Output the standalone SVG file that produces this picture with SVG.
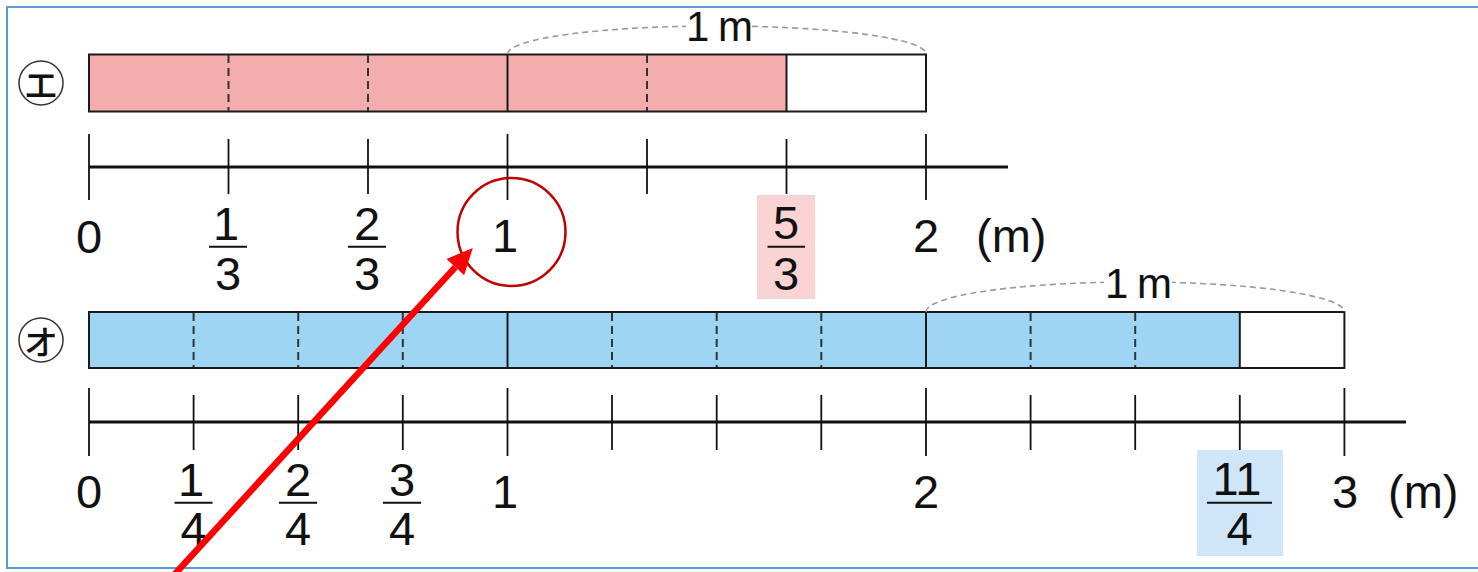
<svg xmlns="http://www.w3.org/2000/svg" width="1478" height="572" viewBox="0 0 1478 572">
<defs>
<style>
.t{font-family:"Liberation Sans",Arial,sans-serif;font-size:47px;fill:#111;text-anchor:middle}
.ts{font-family:"Liberation Sans",Arial,sans-serif;font-size:42px;fill:#111}
.u{font-family:"Liberation Sans",Arial,sans-serif;font-size:47px;fill:#111}
.jp{font-family:"Noto Sans CJK JP","Noto Sans CJK SC",sans-serif;font-size:34px;font-weight:500;fill:#111;text-anchor:middle;dominant-baseline:central}
.lbl{fill:none;stroke:#333;stroke-width:1.5}
.bar{fill:none;stroke:#1a1a1a;stroke-width:2}
.solid{stroke:#1a1a1a;stroke-width:2}
.dash{stroke:#333;stroke-width:2;stroke-dasharray:8 5}
.axis{stroke:#111;stroke-width:3}
.tick{stroke:#111;stroke-width:1.8}
.fb{stroke:#111;stroke-width:2}
.arc{fill:none;stroke:#9a9a9a;stroke-width:1.6;stroke-dasharray:6 4}
</style>
<marker id="head" markerUnits="userSpaceOnUse" markerWidth="26" markerHeight="24" refX="0" refY="12" orient="auto" viewBox="0 0 26 24">
<path d="M0,0 L26,12 L0,24 z" fill="#ff0000"/>
</marker>
</defs>
<rect x="0" y="0" width="1478" height="572" fill="#ffffff"/>
<rect x="7" y="7" width="1480" height="561" fill="none" stroke="#5b9bd5" stroke-width="2"/>

<g id="row-e">
<circle class="lbl" cx="41" cy="83" r="22"/>
<text class="jp" x="41" y="83">エ</text>
<rect x="89" y="54.5" width="837" height="57" fill="#ffffff"/>
<rect x="89" y="54.5" width="697.5" height="57" fill="#f4adad"/>
<rect class="bar" x="89" y="54.5" width="837" height="57"/>
<line class="dash" x1="228.5" y1="55" x2="228.5" y2="111"/>
<line class="dash" x1="368" y1="55" x2="368" y2="111"/>
<line class="dash" x1="647" y1="55" x2="647" y2="111"/>
<line class="solid" x1="507.5" y1="54.5" x2="507.5" y2="111.5"/>
<line class="solid" x1="786.5" y1="54.5" x2="786.5" y2="111.5"/>
<path class="arc" d="M507.5,54 A209.25,28 0 0 1 926,54"/>
<rect x="686" y="11" width="66" height="36" fill="#ffffff"/>
<text class="ts" x="686" y="41" word-spacing="-3">1 m</text>
</g>

<g id="axis-e">
<line class="axis" x1="89" y1="167" x2="1008" y2="167"/>
<line class="tick" x1="89" y1="134" x2="89" y2="200"/>
<line class="tick" x1="228.5" y1="139" x2="228.5" y2="194"/>
<line class="tick" x1="368" y1="139" x2="368" y2="194"/>
<line class="tick" x1="507.5" y1="134" x2="507.5" y2="200"/>
<line class="tick" x1="647" y1="139" x2="647" y2="194"/>
<line class="tick" x1="786.5" y1="139" x2="786.5" y2="194"/>
<line class="tick" x1="926" y1="134" x2="926" y2="200"/>
<text class="t" x="89" y="253">0</text>
<text class="t" x="226" y="240">1</text>
<line class="fb" x1="209" y1="246.7" x2="247" y2="246.7"/>
<text class="t" x="228" y="290">3</text>
<text class="t" x="367" y="240">2</text>
<line class="fb" x1="348" y1="246.7" x2="386" y2="246.7"/>
<text class="t" x="367" y="290">3</text>
<text class="t" x="505" y="252">1</text>
<rect x="757" y="195" width="58" height="104" fill="#fad4d4"/>
<text class="t" x="786" y="239">5</text>
<line class="fb" x1="767.5" y1="246.7" x2="805" y2="246.7"/>
<text class="t" x="786" y="290">3</text>
<text class="t" x="926" y="252">2</text>
<text class="u" x="976" y="252">(m)</text>
</g>

<g id="row-o">
<circle class="lbl" cx="41" cy="340" r="22"/>
<text class="jp" x="41" y="340">オ</text>
<rect x="89" y="312" width="1255.4" height="56" fill="#ffffff"/>
<rect x="89" y="312" width="1150.8" height="56" fill="#9fd5f4"/>
<rect class="bar" x="89" y="312" width="1255.4" height="56"/>
<line class="dash" x1="193.6" y1="313" x2="193.6" y2="367"/>
<line class="dash" x1="298.2" y1="313" x2="298.2" y2="367"/>
<line class="dash" x1="402.8" y1="313" x2="402.8" y2="367"/>
<line class="dash" x1="612" y1="313" x2="612" y2="367"/>
<line class="dash" x1="716.7" y1="313" x2="716.7" y2="367"/>
<line class="dash" x1="821.3" y1="313" x2="821.3" y2="367"/>
<line class="dash" x1="1030.6" y1="313" x2="1030.6" y2="367"/>
<line class="dash" x1="1135.2" y1="313" x2="1135.2" y2="367"/>
<line class="solid" x1="507.5" y1="312" x2="507.5" y2="368"/>
<line class="solid" x1="926" y1="312" x2="926" y2="368"/>
<line class="solid" x1="1239.8" y1="312" x2="1239.8" y2="368"/>
<path class="arc" d="M926,312 A209.2,30 0 0 1 1344.4,312"/>
<rect x="1104" y="268" width="68" height="36" fill="#ffffff"/>
<text class="ts" x="1105" y="298" word-spacing="-3">1 m</text>
</g>

<g id="axis-o">
<line class="axis" x1="89" y1="422" x2="1406" y2="422"/>
<line class="tick" x1="89" y1="388" x2="89" y2="456"/>
<line class="tick" x1="193.6" y1="395" x2="193.6" y2="450"/>
<line class="tick" x1="298.2" y1="395" x2="298.2" y2="450"/>
<line class="tick" x1="402.8" y1="395" x2="402.8" y2="450"/>
<line class="tick" x1="507.5" y1="388" x2="507.5" y2="456"/>
<line class="tick" x1="612" y1="395" x2="612" y2="450"/>
<line class="tick" x1="716.7" y1="395" x2="716.7" y2="450"/>
<line class="tick" x1="821.3" y1="395" x2="821.3" y2="450"/>
<line class="tick" x1="926" y1="388" x2="926" y2="456"/>
<line class="tick" x1="1030.6" y1="395" x2="1030.6" y2="450"/>
<line class="tick" x1="1135.2" y1="395" x2="1135.2" y2="450"/>
<line class="tick" x1="1239.8" y1="395" x2="1239.8" y2="450"/>
<line class="tick" x1="1344.4" y1="388" x2="1344.4" y2="456"/>
<text class="t" x="89" y="508">0</text>
<text class="t" x="191" y="496">1</text>
<line class="fb" x1="174.5" y1="502.7" x2="212.5" y2="502.7"/>
<text class="t" x="193.5" y="545">4</text>
<text class="t" x="298" y="496">2</text>
<line class="fb" x1="279" y1="502.7" x2="317" y2="502.7"/>
<text class="t" x="298" y="545">4</text>
<text class="t" x="402" y="496">3</text>
<line class="fb" x1="383" y1="502.7" x2="421" y2="502.7"/>
<text class="t" x="402" y="545">4</text>
<text class="t" x="505" y="508">1</text>
<text class="t" x="926" y="508">2</text>
<rect x="1197" y="450" width="86" height="106" fill="#cfe6f8"/>
<text class="t" x="1237" y="495">11</text>
<line class="fb" x1="1207" y1="502.7" x2="1272" y2="502.7"/>
<text class="t" x="1239.5" y="545">4</text>
<text class="t" x="1345" y="508">3</text>
<text class="u" x="1388" y="508">(m)</text>
</g>

<g id="annotations">
<circle cx="511.5" cy="232" r="54" fill="none" stroke="#c00000" stroke-width="2.5"/>
<line x1="174" y1="575" x2="455.3" y2="267.1" stroke="#ff0000" stroke-width="6.5" marker-end="url(#head)"/>
</g>
</svg>
